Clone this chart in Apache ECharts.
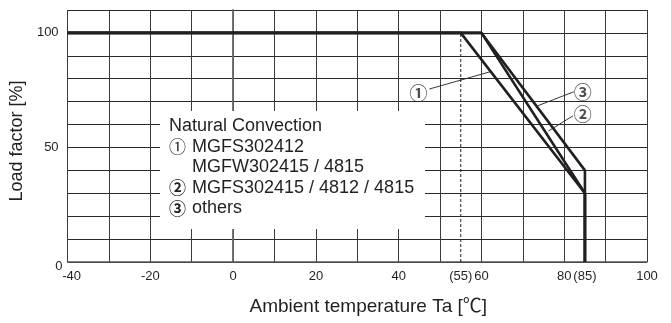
<!DOCTYPE html>
<html><head><meta charset="utf-8">
<script src="https://cdn.jsdelivr.net/npm/echarts@6/dist/echarts.min.js"></script>
<style>html,body{margin:0;padding:0;background:#fff}#c{width:671px;height:323px}</style>
</head><body><div id="c"></div>
<script>
// ---- data ----
const line1 = [[-40, 100], [55, 100], [85, 30], [85, 0]];
const line2 = [[-40, 100], [60, 100], [85, 30], [85, 0]];
const line3 = [[-40, 100], [60, 100], [85, 40], [85, 0]];
const dashedLine = [[55, 0], [55, 100]];
const xTickValues = [-40, -20, 0, 20, 40, 55, 60, 80, 85, 100];
const xTickTexts = ['-40', '-20', '0', '20', '40', '(55)', '60', '80', '(85)', '100'];
const yTickValues = [0, 50, 100];
const xName = 'Ambient temperature Ta [℃]';
const yName = 'Load factor [%]';
const legendTitle = 'Natural Convection';
const legendMarks = ['①', '', '②', '③'];
const legendTexts = ['MGFS302412', 'MGFW302415 / 4815', 'MGFS302415 / 4812 / 4815', 'others'];
const calloutTexts = ['①', '②', '③'];
const calloutAt = [[44.8, 73.9], [84.5, 64.5], [84.5, 74.2]];
const calloutFrom = [[47.4, 75.5], [82.1, 63.8], [82.3, 74.3]];
const calloutTo = [[62.2, 83.1], [76.2, 57.2], [73.6, 68.2]];

// ---- chart ----
const FONT = '"Liberation Sans", Arial, "Noto Sans CJK JP", sans-serif';
const CJK = '"Noto Sans CJK JP", sans-serif';
const INK = '#231f20';
const chart = echarts.init(document.getElementById('c'), null, {renderer: 'canvas'});

const graphic = [
  {type: 'rect', shape: {x: 160, y: 111, width: 265, height: 118}, style: {fill: '#fff'}, z: 5},
  {type: 'text', x: 169, y: 126, z: 6, style: {text: legendTitle, font: '18px ' + FONT, fill: INK, verticalAlign: 'middle'}}
];
legendTexts.forEach((t, i) => {
  const y = 147 + i * 20.5;
  if (legendMarks[i]) graphic.push({type: 'text', x: 169, y: y, z: 6, style: {text: legendMarks[i],
    font: (i === 0 ? '' : 'bold ') + '17px ' + CJK, fill: INK, verticalAlign: 'middle'}});
  graphic.push({type: 'text', x: 192, y: y, z: 6, style: {text: t, font: '18px ' + FONT, fill: INK, verticalAlign: 'middle'}});
});

const mainLine = (d) => ({
  type: 'line', data: d, xAxisIndex: 0, yAxisIndex: 0, symbol: 'none', silent: true,
  lineStyle: {color: INK, width: 2.6}, z: 3
});

const series = [mainLine(line1), mainLine(line2), mainLine(line3),
  {type: 'line', data: dashedLine, symbol: 'none', silent: true, lineStyle: {color: INK, width: 1, type: [3, 2]}, z: 2}
];
calloutTexts.forEach((t, i) => {
  series.push({type: 'line', data: [calloutFrom[i], calloutTo[i]], symbol: 'none', silent: true,
    lineStyle: {color: INK, width: 0.9}, z: 2});
  series.push({type: 'scatter', data: [calloutAt[i]], symbolSize: 0, silent: true,
    label: {show: true, position: 'inside', formatter: t, fontSize: 18, fontWeight: 'bold', fontFamily: CJK, color: INK}, z: 4});
});

chart.setOption({
  animation: false,
  backgroundColor: '#fff',
  textStyle: {fontFamily: FONT},
  grid: {left: 65, right: 24, top: 10, bottom: 61, show: false},
  xAxis: [
    {type: 'value', min: -40, max: 100, interval: 10,
      axisLine: {show: true, onZero: false, lineStyle: {color: '#555', width: 1.5}},
      axisTick: {show: false}, axisLabel: {show: false},
      splitLine: {show: true, lineStyle: {color: '#3a3a3a', width: 1}},
      name: xName, nameLocation: 'middle', nameGap: 35,
      nameTextStyle: {fontSize: 19, color: INK, fontFamily: FONT, padding: [0, 0, 0, 22]}},
    {type: 'value', min: -40, max: 100, interval: 5, position: 'bottom',
      axisLine: {show: false}, axisTick: {show: false}, splitLine: {show: false},
      axisLabel: {show: true, margin: 8, fontSize: 13, color: INK, fontFamily: FONT,
        formatter: (v) => {
          const k = xTickValues.indexOf(v);
          if (k < 0) return '';
          return v === -40 ? '{s|' + xTickTexts[k] + '}' : xTickTexts[k];
        },
        rich: {s: {fontSize: 13, fontFamily: FONT, color: INK, padding: [0, 0, 0, 8]}}}}
  ],
  yAxis: {type: 'value', min: 0, max: 110, interval: 10,
    axisLine: {show: true, lineStyle: {color: '#666', width: 1.8}},
    axisTick: {show: false},
    splitLine: {show: true, lineStyle: {color: '#2a2a2a', width: 1}},
    axisLabel: {show: true, margin: 5, fontSize: 13, color: INK, fontFamily: FONT,
      formatter: (v) => {
        if (yTickValues.indexOf(v) < 0) return '';
        return v === 0 ? '{z|' + v + '}' : '{n|' + v + '}';
      },
      rich: {
        z: {fontSize: 13, fontFamily: FONT, color: INK, padding: [8, 0, 0, 0]},
        n: {fontSize: 13, fontFamily: FONT, color: INK, padding: [0, 4, 0, 0]}
      }},
    name: yName, nameLocation: 'middle', nameGap: 33, nameRotate: 90,
    nameTextStyle: {fontSize: 18, color: INK, fontFamily: FONT, padding: [0, 10, 0, 0]}},
  graphic: graphic,
  series: series
});
</script>
</body></html>
